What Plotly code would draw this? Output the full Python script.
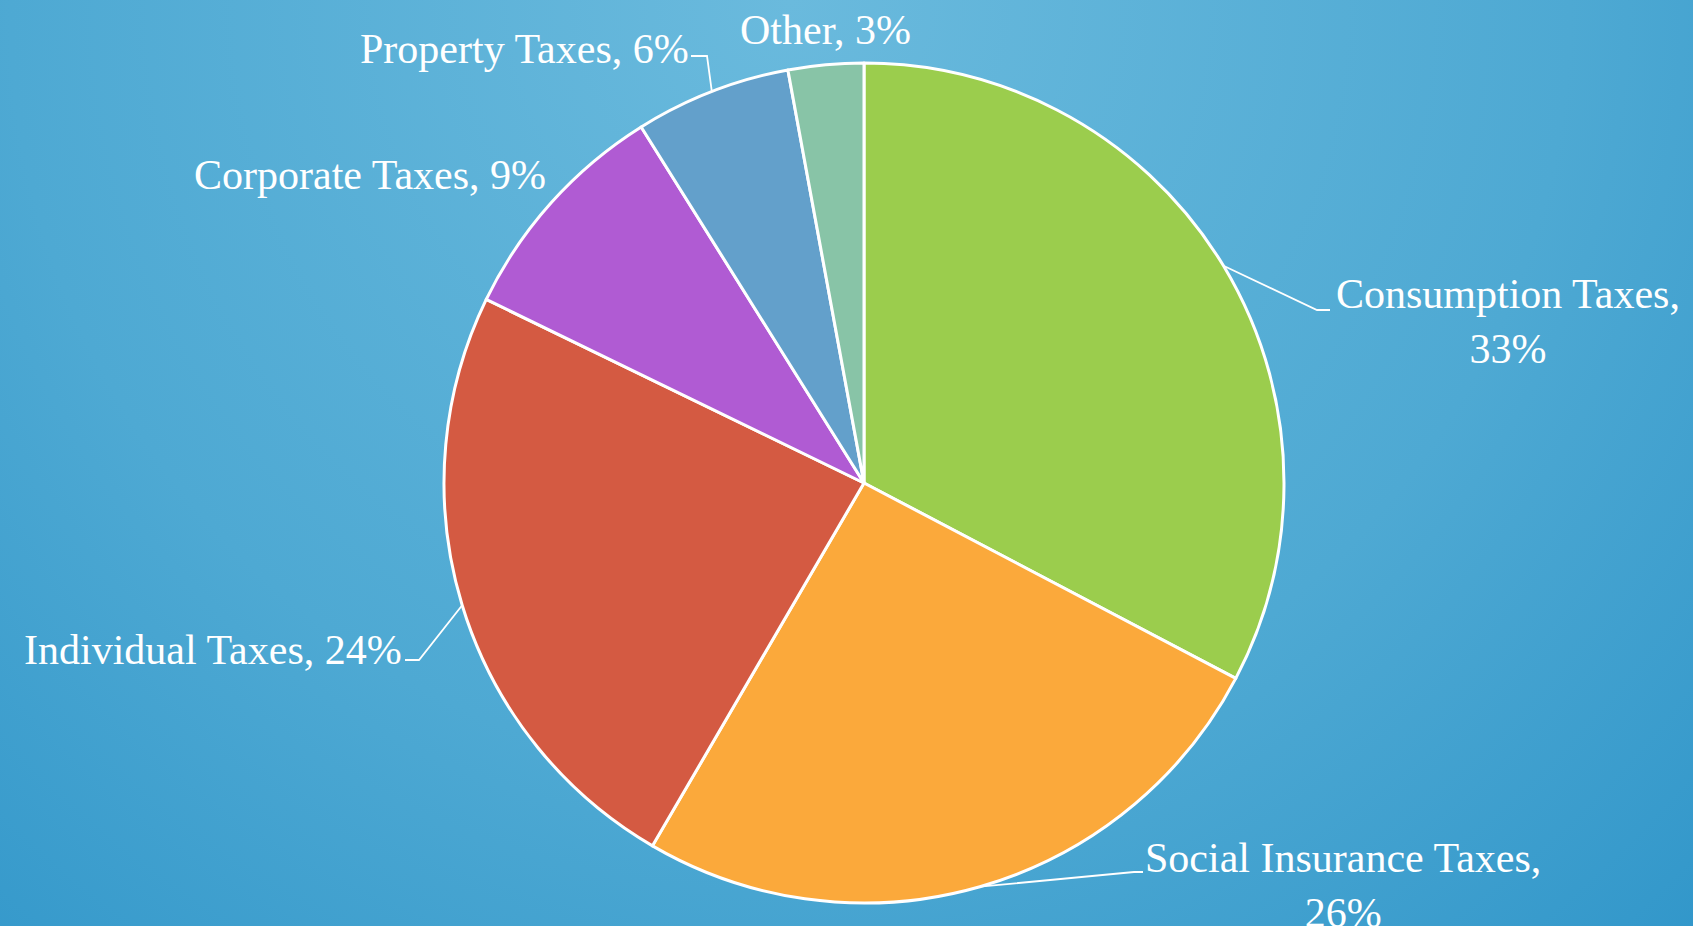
import base64
import math
import plotly.graph_objects as go

# ---- data ----
categories = ["Consumption Taxes", "Social Insurance Taxes", "Individual Taxes",
              "Corporate Taxes", "Property Taxes", "Other"]
shares = [32.7, 25.7, 23.8, 8.9, 6.0, 2.9]
colors = ["#9bcd4d", "#fba93b", "#d45a42", "#b05bd3", "#63a0cb", "#88c4a7"]

W, H = 1693, 926
CX, CY, R = 864, 483, 420

# label layout (pixel positions)
label_pos = {
    "Consumption Taxes": dict(x=1508, y=321, xanchor="center", br=True, elbow=(1317, 310), end=(1330, 310)),
    "Social Insurance Taxes": dict(x=1343, y=885, xanchor="center", br=True, elbow=(1134, 872), end=(1143, 872)),
    "Individual Taxes": dict(x=404, y=650, xanchor="right", br=False, elbow=(419, 660), end=(405, 660)),
    "Corporate Taxes": dict(x=548, y=175, xanchor="right", br=False, elbow=None, end=None),
    "Property Taxes": dict(x=691, y=49, xanchor="right", br=False, elbow=(707, 56), end=(691, 56)),
    "Other": dict(x=738, y=30, xanchor="left", br=False, elbow=None, end=None),
}

def px(x):
    return x / W

def py(y):
    return 1 - y / H

# background radial gradient as svg
svg = f'''<svg xmlns="http://www.w3.org/2000/svg" width="{W}" height="{H}" viewBox="0 0 {W} {H}">
<defs><radialGradient id="g" gradientUnits="userSpaceOnUse" cx="790" cy="0" r="1300">
<stop offset="0" stop-color="#6abadd"/>
<stop offset="0.6" stop-color="#4ea9d3"/>
<stop offset="1" stop-color="#3297ca"/>
</radialGradient></defs>
<rect width="{W}" height="{H}" fill="url(#g)"/></svg>'''
src = "data:image/svg+xml;base64," + base64.b64encode(svg.encode()).decode()

fig = go.Figure()
fig.add_trace(go.Pie(
    labels=categories, values=shares, sort=False, direction="clockwise", rotation=0,
    marker=dict(colors=colors, line=dict(color="white", width=3)),
    textinfo="none", hoverinfo="label+percent", showlegend=False,
    domain=dict(x=[px(CX - R), px(CX + R)], y=[py(CY + R), py(CY - R)]),
))

total = sum(shares)
cum = 0
annotations = []
shapes = []
font = dict(family="Liberation Serif", size=42, color="white")
for cat, v in zip(categories, shares):
    mid = (cum + v / 2) / total * 2 * math.pi
    cum += v
    pct = round(v / total * 100)
    lp = label_pos[cat]
    sep = ",<br>" if lp["br"] else ", "
    annotations.append(dict(
        text=f"{cat}{sep}{pct}%", x=px(lp["x"]), y=py(lp["y"]), xref="paper", yref="paper",
        xanchor=lp["xanchor"], yanchor="middle", align="center", showarrow=False, font=font,
    ))
    if lp["elbow"] is not None:
        ex = CX + R * math.sin(mid)
        ey = CY - R * math.cos(mid)
        path = (f"M {px(ex)},{py(ey)} L {px(lp['elbow'][0])},{py(lp['elbow'][1])} "
                f"L {px(lp['end'][0])},{py(lp['end'][1])}")
        shapes.append(dict(type="path", path=path, xref="paper", yref="paper",
                           line=dict(color="white", width=1.8), layer="above"))

fig.update_layout(
    width=W, height=H, margin=dict(l=0, r=0, t=0, b=0),
    paper_bgcolor="#3fa0cf", plot_bgcolor="rgba(0,0,0,0)",
    font=dict(family="Liberation Serif"),
    images=[dict(source=src, xref="paper", yref="paper", x=0, y=1, sizex=1, sizey=1,
                 xanchor="left", yanchor="top", sizing="stretch", layer="below")],
    annotations=annotations, shapes=shapes,
)

fig.write_html("out.html", config={"displayModeBar": False},
               post_script="document.body.style.margin='0';document.body.style.overflow='hidden';")
